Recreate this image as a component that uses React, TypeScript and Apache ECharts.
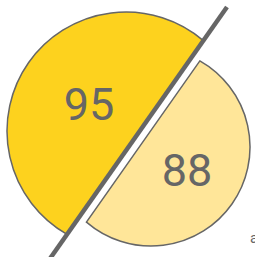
import React, { useEffect, useRef } from "react";
import * as echarts from "echarts";

// data
const categories = ["left", "right"];
const values = [95, 88];
const cornerText = ["a"];

// layout (pixels)
const W = 255;
const H = 257;
const DIVIDER = { x1: 227, y1: 7, x2: 49, y2: 260 };
const segments = [
  { cx: 126, cy: 131, r: 119, offset: 0, side: -1, fill: "#FDD21E", lx: 89, ly: 104 },
  { cx: 151, cy: 147, r: 99, offset: 8.8, side: 1, fill: "#FFE699", lx: 187, ly: 170 },
];

function segmentPath(seg: typeof segments[number]) {
  const dx0 = DIVIDER.x2 - DIVIDER.x1;
  const dy0 = DIVIDER.y2 - DIVIDER.y1;
  const len = Math.hypot(dx0, dy0);
  const d = { x: dx0 / len, y: dy0 / len };
  const n = { x: d.y, y: -d.x };
  const proj = n.x * (seg.cx - DIVIDER.x1) + n.y * (seg.cy - DIVIDER.y1);
  const s = seg.offset - proj;
  const fx = seg.cx + s * n.x;
  const fy = seg.cy + s * n.y;
  const h = Math.sqrt(seg.r * seg.r - s * s);
  const e1 = { x: fx + h * d.x, y: fy + h * d.y };
  const e2 = { x: fx - h * d.x, y: fy - h * d.y };
  const sweep = seg.side === -1 ? 1 : 0;
  return `M${e1.x} ${e1.y} A${seg.r} ${seg.r} 0 1 ${sweep} ${e2.x} ${e2.y} Z`;
}

export default function App() {
  const ref = useRef<HTMLDivElement>(null);
  useEffect(() => {
    if (!ref.current) return;
    const chart = echarts.init(ref.current, null, { renderer: "svg" });
    chart.setOption({
      animation: false,
      series: [
        {
          type: "custom",
          coordinateSystem: "none",
          z: 2,
          data: values.map((v, i) => ({ name: categories[i], value: [i, v] })),
          renderItem: (params: any, api: any) => {
            const i = params.dataIndex;
            const seg = segments[i];
            return {
              type: "group",
              children: [
                {
                  type: "path",
                  shape: { pathData: segmentPath(seg) },
                  style: { fill: seg.fill, stroke: "#666666", lineWidth: 1.5 },
                },
                {
                  type: "text",
                  style: {
                    text: String(api.value(1)),
                    x: seg.lx,
                    y: seg.ly,
                    align: "center",
                    verticalAlign: "middle",
                    textAlign: "center",
                    textVerticalAlign: "middle",
                    font: "45px Roboto",
                    fill: "#666666",
                  },
                },
              ],
            };
          },
        },
      ],
      graphic: {
        z: 100,
        elements: [
          {
            type: "line",
            z: 100,
            shape: { ...DIVIDER },
            style: { stroke: "#666666", lineWidth: 4.5 },
          },
          {
            type: "text",
            z: 100,
            style: {
              text: cornerText[0],
              x: 250,
              y: 238,
              align: "left",
              verticalAlign: "middle",
              textAlign: "left",
              textVerticalAlign: "middle",
              font: "15px Roboto",
              fill: "#666666",
            },
          },
        ],
      },
    });
    return () => chart.dispose();
  }, []);
  return (
    <div
      ref={ref}
      style={{ position: "absolute", left: 0, top: 0, width: W, height: H }}
    />
  );
}
